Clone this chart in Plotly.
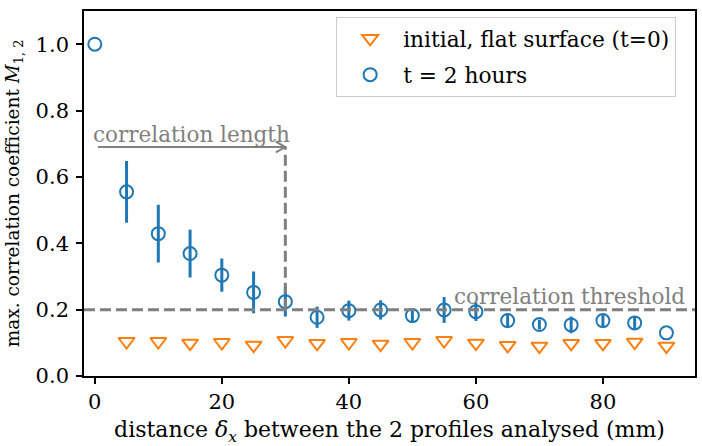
import plotly.graph_objects as go

# ---- data ----
dist_initial = [5, 10, 15, 20, 25, 30, 35, 40, 45, 50, 55, 60, 65, 70, 75, 80, 85, 90]
corr_initial = [0.104, 0.104, 0.099, 0.101, 0.093, 0.107, 0.098, 0.101, 0.096,
                0.101, 0.107, 0.099, 0.092, 0.090, 0.098, 0.098, 0.102, 0.090]

dist_2h = [0, 5, 10, 15, 20, 25, 30, 35, 40, 45, 50, 55, 60, 65, 70, 75, 80, 85, 90]
corr_2h = [1.0, 0.555, 0.429, 0.369, 0.304, 0.252, 0.224, 0.177, 0.197, 0.199,
           0.182, 0.199, 0.194, 0.167, 0.155, 0.154, 0.167, 0.160, 0.130]
err_2h = [0.0, 0.093, 0.087, 0.072, 0.050, 0.063, 0.045, 0.032, 0.030, 0.029,
          0.020, 0.039, 0.028, 0.022, 0.015, 0.025, 0.020, 0.020, 0.0]

threshold = 0.2
corr_length = 30
arrow_start = 0.5
arrow_y = 0.69

x_ticks = [0, 20, 40, 60, 80]
y_ticks = [0.0, 0.2, 0.4, 0.6, 0.8, 1.0]

BLUE = "#1f77b4"
ORANGE = "#ff7f0e"
GREY = "#808080"
FONT = "DejaVu Serif"

fig = go.Figure()

fig.add_trace(go.Scatter(
    x=dist_initial, y=corr_initial, mode="markers",
    name="initial, flat surface (t=0)", legendgroup="a",
    marker=dict(symbol="triangle-down-open", size=14, color=ORANGE,
                line=dict(width=2, color=ORANGE)),
))
fig.add_trace(go.Scatter(
    x=dist_2h, y=corr_2h, mode="markers",
    name="t = 2 hours", legendgroup="b",
    marker=dict(symbol="circle-open", size=13, color=BLUE,
                line=dict(width=2, color=BLUE)),
    error_y=dict(type="data", array=err_2h, visible=True, color=BLUE,
                 thickness=3, width=0),
))

# threshold line (full width)
fig.add_shape(type="line", xref="paper", yref="y", x0=0, x1=1,
              y0=threshold, y1=threshold,
              line=dict(color=GREY, width=3, dash="11px,5px"))
# vertical correlation length line
fig.add_shape(type="line", xref="x", yref="y", x0=corr_length, x1=corr_length,
              y0=threshold, y1=arrow_y,
              line=dict(color=GREY, width=3, dash="11px,5px"))
# arrow shaft
fig.add_shape(type="line", xref="x", yref="y", x0=arrow_start, x1=corr_length,
              y0=arrow_y, y1=arrow_y, line=dict(color=GREY, width=2))
# open arrow head (->)
hx, hy = 1.5, 0.016
fig.add_shape(type="path", xref="x", yref="y",
              path=(f"M {corr_length - hx},{arrow_y + hy} L {corr_length},{arrow_y} "
                    f"L {corr_length - hx},{arrow_y - hy}"),
              line=dict(color=GREY, width=2))

fig.add_annotation(x=-0.6, y=arrow_y, xref="x", yref="y", xanchor="left",
                   yanchor="middle", yshift=13, showarrow=False,
                   text="correlation length",
                   font=dict(family=FONT, size=21.5, color=GREY))
fig.add_annotation(x=93.2, y=threshold, xref="x", yref="y", xanchor="right",
                   yanchor="middle", yshift=13, showarrow=False,
                   text="correlation threshold",
                   font=dict(family=FONT, size=21.5, color=GREY))

fig.update_layout(
    width=702, height=446,
    margin=dict(l=84, r=5, t=11, b=70),
    paper_bgcolor="white", plot_bgcolor="white",
    font=dict(family=FONT, size=21, color="black"),
    showlegend=True,
    legend=dict(x=0.4127, y=0.984, xanchor="left", yanchor="top",
                bgcolor="rgba(255,255,255,0.8)", bordercolor="#cccccc",
                borderwidth=1, font=dict(family=FONT, size=21.7, color="black"),
                tracegroupgap=5, itemwidth=56),
)
fig.update_xaxes(range=[-1.7, 94.5], tickvals=x_ticks, ticktext=[str(v) for v in x_ticks],
                 showline=True, mirror=True, linecolor="black", linewidth=1.6,
                 ticks="outside", ticklen=6, tickwidth=1.6, tickcolor="black",
                 showgrid=False, zeroline=False, ticklabelstandoff=0,
                 tickfont=dict(family=FONT, size=21, color="black"),
                 title=dict(text="distance <i>δ<sub>x</sub></i> between the 2 profiles analysed (mm)",
                            standoff=10, font=dict(family=FONT, size=22, color="black")))
fig.update_yaxes(range=[0, 1.1], tickvals=y_ticks, ticktext=[f"{v:.1f}" for v in y_ticks],
                 showline=True, mirror=True, linecolor="black", linewidth=1.6,
                 ticks="outside", ticklen=6, tickwidth=1.6, tickcolor="black",
                 showgrid=False, zeroline=False, ticklabelstandoff=3,
                 tickfont=dict(family=FONT, size=21, color="black"),
                 title=dict(text="max. correlation coefficient <i>M</i><sub>1, 2</sub>",
                            standoff=11, font=dict(family=FONT, size=18.5, color="black")))

fig.write_html("out.html")
